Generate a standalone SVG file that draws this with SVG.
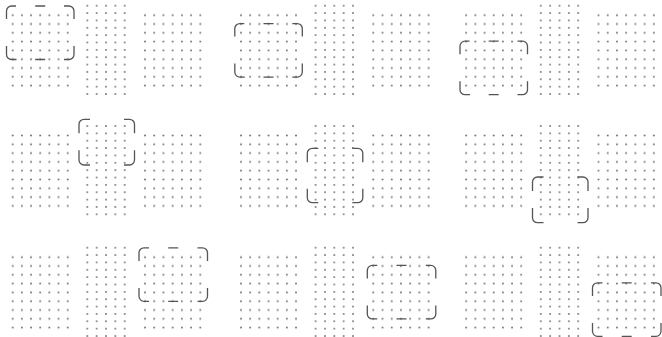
<svg xmlns="http://www.w3.org/2000/svg" xmlns:xlink="http://www.w3.org/1999/xlink" width="662" height="337" viewBox="0 0 662 337">
<style>
.box{fill:none;stroke:#555;stroke-width:1.3;stroke-linecap:butt}
.dot{fill:#6e6e6e}
</style>
<defs>
<pattern id="pL" patternUnits="userSpaceOnUse" x="8.115" y="10.8" width="9.17" height="8.8"><circle class="dot" cx="4.585" cy="4.4" r="0.95"/></pattern>
<pattern id="pM" patternUnits="userSpaceOnUse" x="82.625" y="2.02" width="9.35" height="7.36"><circle class="dot" cx="4.675" cy="3.68" r="0.95"/></pattern>
<pattern id="pR" patternUnits="userSpaceOnUse" x="140.39" y="10.8" width="9.22" height="8.8"><circle class="dot" cx="4.61" cy="4.4" r="0.95"/></pattern>
<g id="grids">
<rect x="8.115" y="10.8" width="64.19" height="79.2" fill="url(#pL)"/>
<rect x="82.625" y="2.02" width="46.75" height="95.68" fill="url(#pM)"/>
<rect x="140.39" y="10.8" width="64.54" height="79.2" fill="url(#pR)"/>
</g>
</defs>
<g id="panel-1" transform="translate(0,0)">
<use xlink:href="#grids"/>
<path class="box" d="M6.5,19V11A5,5 0 0 1 11.5,6H16 M64,6H69A5,5 0 0 1 74,11V19 M74,46V54.5A5,5 0 0 1 69,59.5H64 M16.5,59.5H11.5A5,5 0 0 1 6.5,54.5V46 M35.2,6H45.2 M35.2,59.5H45.2"/>
</g>
<g id="panel-2" transform="translate(228.3,0)">
<use xlink:href="#grids"/>
<path class="box" d="M6.5,36.6V28.6A5,5 0 0 1 11.5,23.6H16 M64,23.6H69A5,5 0 0 1 74,28.6V36.6 M74,63.6V72.1A5,5 0 0 1 69,77.1H64 M16.5,77.1H11.5A5,5 0 0 1 6.5,72.1V63.6 M35.2,23.6H45.2 M35.2,77.1H45.2"/>
</g>
<g id="panel-3" transform="translate(453.5,0)">
<use xlink:href="#grids"/>
<path class="box" d="M6.5,54.2V46.2A5,5 0 0 1 11.5,41.2H16 M64,41.2H69A5,5 0 0 1 74,46.2V54.2 M74,81.2V89.7A5,5 0 0 1 69,94.7H64 M16.5,94.7H11.5A5,5 0 0 1 6.5,89.7V81.2 M35.2,41.2H45.2 M35.2,94.7H45.2"/>
</g>
<g id="panel-4" transform="translate(0,120.3)">
<use xlink:href="#grids"/>
<path class="box" d="M79,13V4A5,5 0 0 1 84,-1H90 M124,-1H129.5A5,5 0 0 1 134.5,4V13 M134.5,30V39.7A5,5 0 0 1 129.5,44.7H124 M90,44.7H84A5,5 0 0 1 79,39.7V30"/>
</g>
<g id="panel-5" transform="translate(228.3,120.3)">
<use xlink:href="#grids"/>
<path class="box" d="M79,42V33A5,5 0 0 1 84,28H90 M124,28H129.5A5,5 0 0 1 134.5,33V42 M134.5,68.4V77.4A5,5 0 0 1 129.5,82.4H124 M90,82.4H84A5,5 0 0 1 79,77.4V68.4"/>
</g>
<g id="panel-6" transform="translate(453.5,120.3)">
<use xlink:href="#grids"/>
<path class="box" d="M79,70.7V61.7A5,5 0 0 1 84,56.7H90 M124,56.7H129.5A5,5 0 0 1 134.5,61.7V70.7 M134.5,87.7V97.4A5,5 0 0 1 129.5,102.4H124 M90,102.4H84A5,5 0 0 1 79,97.4V87.7"/>
</g>
<g id="panel-7" transform="translate(0,242)">
<use xlink:href="#grids"/>
<path class="box" d="M139,19V10.8A5,5 0 0 1 144,5.8H149 M197.5,5.8H202.5A5,5 0 0 1 207.5,10.8V19 M207.5,46V54.3A5,5 0 0 1 202.5,59.3H197.5 M149,59.3H144A5,5 0 0 1 139,54.3V46 M168.2,5.8H178.2 M168.2,59.3H178.2"/>
</g>
<g id="panel-8" transform="translate(228.3,242)">
<use xlink:href="#grids"/>
<path class="box" d="M139,36.4V28.4A5,5 0 0 1 144,23.4H149 M197.5,23.4H202.5A5,5 0 0 1 207.5,28.4V36.4 M207.5,63.4V71.9A5,5 0 0 1 202.5,76.9H197.5 M149,76.9H144A5,5 0 0 1 139,71.9V63.4 M168.2,23.4H178.2 M168.2,76.9H178.2"/>
</g>
<g id="panel-9" transform="translate(453.5,242)">
<use xlink:href="#grids"/>
<path class="box" d="M139,54V45.8A5,5 0 0 1 144,40.8H149 M197.5,40.8H202.5A5,5 0 0 1 207.5,45.8V54 M207.5,81V89.3A5,5 0 0 1 202.5,94.3H197.5 M149,94.3H144A5,5 0 0 1 139,89.3V81 M168.2,40.8H178.2 M168.2,94.3H178.2"/>
</g>
<g id="connectors"></g>
</svg>
